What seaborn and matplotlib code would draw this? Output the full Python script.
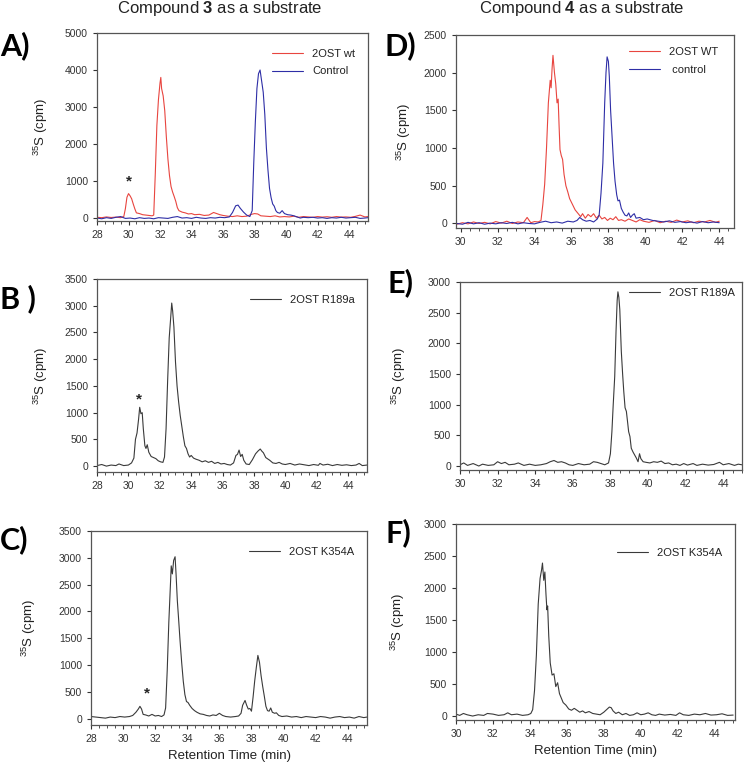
import matplotlib
matplotlib.use("Agg")
import matplotlib.pyplot as plt
import seaborn as sns
from matplotlib.ticker import AutoMinorLocator, MultipleLocator

# ---- data (retention time in min, counts in cpm) ----
# A) compound 3, 2OST wt
a_wt_t = [28.0, 28.3, 28.6, 28.9, 29.2, 29.5, 29.7, 29.8, 29.9, 30.0, 30.1, 30.2, 30.3, 30.4, 30.5,
          30.7, 30.9, 31.1, 31.3, 31.5, 31.6, 31.7, 31.8, 31.9, 32.0, 32.05, 32.1, 32.2, 32.3, 32.4,
          32.5, 32.6, 32.7, 32.8, 32.9, 33.0, 33.1, 33.2, 33.4, 33.6, 33.8, 34.0, 34.2, 34.5, 34.8,
          35.1, 35.4, 35.6, 35.8, 36.0, 36.3, 36.6, 36.9, 37.2, 37.5, 37.8, 38.0, 38.2, 38.4, 38.7,
          39.0, 39.3, 39.6, 39.9, 40.2, 40.5, 40.8, 41.1, 41.4, 41.7, 42.0, 42.3, 42.6, 42.9, 43.2,
          43.5, 43.8, 44.1, 44.4, 44.7, 45.0, 45.2]
a_wt_v = [20, 10, 30, 15, 25, 10, 40, 250, 560, 660, 600, 520, 380, 250, 140,
          120, 90, 80, 70, 60, 80, 1200, 2500, 3200, 3650, 3800, 3500, 3300, 2900, 2200,
          1600, 1150, 850, 700, 580, 450, 280, 200, 160, 140, 110, 120, 90, 100, 70,
          80, 150, 120, 90, 70, 50, 40, 60, 40, 50, 100, 120, 110, 60, 50,
          40, 60, 30, 40, 30, 50, 20, 40, 30, 20, 40, 25, 35, 20, 40,
          25, 30, 20, 45, 80, 30, 40]
# A) compound 3, control
a_ctl_t = [28.0, 28.3, 28.6, 28.9, 29.2, 29.5, 29.8, 30.1, 30.4, 30.7, 31.0, 31.3, 31.6, 31.9, 32.2,
           32.5, 32.8, 33.1, 33.4, 33.7, 34.0, 34.3, 34.6, 34.9, 35.2, 35.5, 35.8, 36.1, 36.4, 36.6,
           36.8, 36.95, 37.1, 37.3, 37.5, 37.7, 37.85, 37.95, 38.05, 38.15, 38.25, 38.35, 38.45, 38.55,
           38.65, 38.75, 38.85, 38.95, 39.05, 39.15, 39.25, 39.35, 39.45, 39.6, 39.75, 39.9, 40.1, 40.3,
           40.5, 40.7, 40.9, 41.1, 41.4, 41.7, 42.0, 42.3, 42.6, 42.9, 43.2, 43.5, 43.8, 44.1, 44.4,
           44.7, 45.0, 45.2]
a_ctl_v = [0, -20, 10, -10, 20, 40, -10, 0, -20, 10, -10, 0, -20, 10, 0,
           -10, 20, 40, 0, 10, -10, 20, 0, -10, 10, 0, 20, 10, 30, 150,
           330, 350, 260, 160, 80, 40, 200, 1500, 2600, 3500, 3900, 4000, 3700, 3400,
           2800, 1900, 1300, 800, 550, 380, 320, 200, 150, 130, 200, 120, 90, 80,
           60, 30, 0, 20, 10, 20, 0, 10, -10, 10, 0, 20, 0, 10, 20,
           -10, 0, 10]

# D) compound 4, 2OST WT
d_wt_t = [29.8, 30.1, 30.4, 30.7, 31.0, 31.3, 31.6, 31.9, 32.2, 32.5, 32.8, 33.1, 33.4, 33.6, 33.8,
          34.0, 34.2, 34.35, 34.45, 34.55, 34.65, 34.75, 34.85, 34.9, 34.95, 35.0, 35.08, 35.15, 35.22,
          35.28, 35.33, 35.38, 35.45, 35.52, 35.6, 35.7, 35.8, 35.9, 36.0, 36.1, 36.2, 36.3, 36.4, 36.5,
          36.6, 36.75, 36.9, 37.05, 37.2, 37.35, 37.5, 37.65, 37.8, 37.95, 38.1, 38.25, 38.4, 38.55,
          38.7, 38.9, 39.1, 39.3, 39.5, 39.7, 39.9, 40.2, 40.5, 40.8, 41.1, 41.4, 41.7, 42.0, 42.3,
          42.6, 42.9, 43.2, 43.5, 43.8, 44.0]
d_wt_v = [-10, 10, -5, 20, 0, 15, -5, 25, 5, 30, 0, 20, 10, 80, 10,
          25, 20, 40, 250, 520, 1000, 1600, 1900, 1800, 2050, 2230, 2000, 1850, 1600,
          1650, 1300, 980, 900, 850, 650, 500, 420, 330, 280, 230, 180, 150, 120, 90,
          130, 70, 120, 90, 130, 70, 110, 60, 80, 40, 70, 50, 90, 40,
          50, 30, 60, 40, 20, 50, 30, 15, 40, 10, 30, 15, 45, 20, 35,
          10, 30, 20, 40, 15, 30]
# D) compound 4, control
d_ctl_t = [29.8, 30.1, 30.4, 30.7, 31.0, 31.3, 31.6, 31.9, 32.2, 32.5, 32.8, 33.1, 33.4, 33.7, 34.0,
           34.3, 34.6, 34.9, 35.2, 35.5, 35.8, 36.1, 36.3, 36.45, 36.6, 36.8, 37.0, 37.2, 37.4, 37.5,
           37.6, 37.7, 37.8, 37.87, 37.93, 38.0, 38.05, 38.12, 38.2, 38.28, 38.36, 38.45, 38.52, 38.6,
           38.7, 38.8, 38.9, 39.0, 39.1, 39.2, 39.3, 39.4, 39.5, 39.7, 39.9, 40.1, 40.4, 40.7, 41.0,
           41.3, 41.6, 41.9, 42.2, 42.5, 42.8, 43.1, 43.4, 43.7, 44.0]
d_ctl_v = [0, -10, 15, -5, 10, -10, 5, -5, 10, 0, 15, -5, 10, 0, -5,
           15, 30, 10, 20, 5, 30, 20, 40, 80, 50, 30, 40, 20, 60, 110,
           400, 800, 1600, 2000, 2210, 2150, 1950, 1500, 1150, 800, 560, 380, 300, 310,
           200, 150, 110, 100, 140, 80, 110, 130, 70, 80, 50, 60, 40, 30, 20,
           35, 15, 25, 10, 20, 5, 25, 10, 20, 10]

# B) compound 3, 2OST R189a
b_t = [28.0, 28.3, 28.6, 28.9, 29.2, 29.4, 29.7, 30.0, 30.2, 30.35, 30.45, 30.55, 30.65, 30.72, 30.8,
       30.88, 30.95, 31.05, 31.12, 31.2, 31.3, 31.45, 31.6, 31.75, 31.9, 32.05, 32.2, 32.3, 32.4, 32.5,
       32.6, 32.7, 32.76, 32.82, 32.9, 33.0, 33.1, 33.2, 33.3, 33.4, 33.5, 33.6, 33.7, 33.8, 33.9,
       34.0, 34.15, 34.3, 34.5, 34.7, 34.9, 35.1, 35.3, 35.5, 35.7, 35.9, 36.1, 36.3, 36.5, 36.7,
       36.85, 36.95, 37.05, 37.15, 37.25, 37.35, 37.5, 37.7, 37.9, 38.1, 38.25, 38.4, 38.5, 38.6,
       38.75, 38.9, 39.0, 39.2, 39.4, 39.6, 39.8, 40.0, 40.3, 40.6, 40.9, 41.2, 41.5, 41.8, 42.1,
       42.2, 42.4, 42.7, 43.0, 43.3, 43.6, 43.9, 44.2, 44.5, 44.7, 44.9, 45.2]
b_v = [10, 30, 0, 20, 10, 40, 10, 20, 60, 150, 500, 620, 880, 1100, 980,
       1000, 700, 380, 330, 400, 260, 180, 160, 140, 100, 80, 70, 170, 700, 1600,
       2400, 2800, 3050, 2900, 2600, 1950, 1500, 1200, 950, 750, 550, 380, 330, 230, 170,
       200, 150, 130, 110, 80, 100, 70, 90, 50, 70, 40, 50, 30, 20, 60,
       200, 220, 300, 180, 220, 110, 40, 30, 120, 230, 280, 320, 280, 250,
       160, 130, 110, 60, 50, 70, 40, 30, 50, 20, 40, 25, 10, 30, 15,
       50, 20, 35, 10, 30, 15, 25, 10, 20, 50, 10, 20]

# E) compound 4, 2OST R189A
e_t = [30.0, 30.2, 30.4, 30.7, 31.0, 31.2, 31.5, 31.8, 32.0, 32.2, 32.4, 32.6, 32.9, 33.1, 33.4,
       33.7, 34.0, 34.3, 34.6, 34.8, 35.0, 35.2, 35.4, 35.6, 35.8, 36.0, 36.3, 36.6, 36.9, 37.1,
       37.3, 37.5, 37.7, 37.9, 38.0, 38.08, 38.15, 38.23, 38.3, 38.36, 38.4, 38.45, 38.5, 38.58,
       38.65, 38.71, 38.78, 38.85, 38.92, 38.97, 39.04, 39.11, 39.2, 39.29, 39.38, 39.47, 39.55,
       39.62, 39.74, 39.9, 40.1, 40.3, 40.5, 40.7, 40.9, 41.1, 41.3, 41.5, 41.7, 41.9, 42.1, 42.4,
       42.6, 42.9, 43.2, 43.5, 43.8, 44.0, 44.3, 44.6, 44.8, 45.0]
e_v = [20, 50, 10, 40, 0, 30, 10, 20, 70, 40, 60, 20, 30, 50, 10,
       30, 10, 20, 40, 70, 90, 60, 70, 50, 20, 10, 40, 20, 30, 70,
       60, 40, 20, 50, 200, 560, 1000, 1460, 2200, 2700, 2840, 2750, 2550, 1870,
       1500, 1220, 950, 890, 700, 560, 480, 290, 230, 180, 130, 70, 200,
       120, 70, 60, 50, 70, 60, 80, 40, 50, 20, 30, 10, 40, 15, 40,
       10, 30, 15, 25, 60, 20, 40, 10, 30, 20]

# C) compound 3, 2OST K354A
c_t = [28.0, 28.3, 28.6, 28.9, 29.2, 29.5, 29.8, 30.1, 30.4, 30.6, 30.8, 30.95, 31.05, 31.15, 31.25,
       31.4, 31.6, 31.8, 32.0, 32.2, 32.4, 32.55, 32.65, 32.75, 32.85, 32.95, 33.0, 33.07, 33.15,
       33.24, 33.3, 33.38, 33.45, 33.55, 33.65, 33.75, 33.85, 33.95, 34.05, 34.15, 34.3, 34.45,
       34.6, 34.8, 35.0, 35.2, 35.4, 35.6, 35.8, 36.0, 36.2, 36.4, 36.7, 37.0, 37.2, 37.35, 37.45,
       37.6, 37.7, 37.8, 37.9, 38.0, 38.1, 38.2, 38.3, 38.4, 38.5, 38.6, 38.7, 38.8, 38.9, 39.0,
       39.1, 39.2, 39.3, 39.45, 39.55, 39.7, 39.9, 40.2, 40.5, 40.8, 41.1, 41.4, 41.7, 42.0, 42.3,
       42.6, 42.9, 43.2, 43.5, 43.8, 44.1, 44.4, 44.7, 45.0, 45.2]
c_v = [40, 30, 20, 10, 30, 20, 40, 30, 40, 60, 120, 180, 230, 180, 80,
       70, 50, 80, 50, 60, 40, 70, 200, 900, 1800, 2500, 2850, 2700, 2950,
       3020, 2700, 2200, 1900, 1450, 1050, 700, 450, 320, 300, 250, 190, 150,
       120, 90, 80, 60, 50, 70, 60, 100, 60, 40, 30, 40, 50, 100, 250,
       340, 250, 180, 190, 140, 400, 700, 950, 1180, 1050, 800, 600, 420, 230, 150,
       140, 200, 120, 100, 110, 60, 40, 50, 30, 40, 20, 40, 30, 20, 40,
       30, 10, 30, 40, 20, 30, 10, 40, 20, 30]

# F) compound 4, 2OST K354A
f_t = [30.0, 30.2, 30.4, 30.6, 30.9, 31.2, 31.5, 31.7, 32.0, 32.3, 32.6, 32.8, 33.0, 33.3, 33.6,
       33.9, 34.05, 34.15, 34.25, 34.35, 34.45, 34.55, 34.63, 34.68, 34.75, 34.81, 34.87, 34.92,
       34.96, 35.02, 35.1, 35.2, 35.3, 35.4, 35.5, 35.6, 35.7, 35.8, 35.95, 36.1, 36.25, 36.4,
       36.55, 36.7, 36.85, 37.0, 37.2, 37.4, 37.6, 37.8, 38.0, 38.15, 38.3, 38.4, 38.5, 38.65,
       38.8, 39.0, 39.2, 39.4, 39.6, 39.8, 40.0, 40.2, 40.4, 40.6, 40.8, 41.0, 41.3, 41.6, 41.9,
       42.1, 42.3, 42.6, 42.9, 43.2, 43.5, 43.8, 44.1, 44.4, 44.7, 45.0]
f_v = [30, 10, 40, 20, 0, 20, 10, 40, 30, 10, 20, 50, 20, 30, 10,
       20, 40, 100, 400, 950, 1750, 2150, 2280, 2390, 2120, 2250, 1900, 1660,
       1720, 1250, 830, 640, 660, 460, 520, 350, 280, 210, 170, 110, 90, 120,
       90, 60, 80, 50, 70, 40, 30, 20, 60, 100, 140, 130, 80, 40,
       60, 20, 40, 10, 20, 50, 20, 30, 50, 20, 10, 30, 15, 25, 10,
       50, 20, 10, 30, 20, 40, 15, 20, 35, 10, 15]

RED = "#e8453f"
BLUE = "#2e2ea6"
DARK = "#3a3a3a"

sns.set_style("ticks")
plt.rcParams["font.family"] = ["Liberation Sans", "DejaVu Sans"]
plt.rcParams["mathtext.fontset"] = "custom"
plt.rcParams["mathtext.rm"] = "Liberation Sans"
plt.rcParams["mathtext.bf"] = "Liberation Sans:bold"

W, H = 745, 766
fig = plt.figure(figsize=(W / 100, H / 100), dpi=100)


def px_axes(left, top, right, bottom):
    return fig.add_axes([left / W, 1 - bottom / H, (right - left) / W, (bottom - top) / H])


def style(ax, xlim, ylim, ystep, xticks):
    ax.set_xlim(*xlim)
    ax.set_ylim(*ylim)
    ax.set_xticks(xticks)
    ax.yaxis.set_major_locator(MultipleLocator(ystep))
    ax.xaxis.set_minor_locator(AutoMinorLocator(4))
    ax.tick_params(axis="both", which="major", labelsize=7.5, length=3, width=0.8,
                   colors="#333333", direction="out")
    ax.tick_params(axis="x", which="minor", length=2, width=0.6, color="#333333")
    for s in ax.spines.values():
        s.set_color("#555555")
        s.set_linewidth(0.9)
    ax.set_xlabel("")
    ax.set_ylabel("")


def ylab(ax, xpix, left, width):
    ax.set_ylabel(r"$^{35}$S (cpm)", fontsize=9.5, color="#222222")
    ax.yaxis.set_label_coords((xpix - left) / width, 0.5)


def legend(ax, loc="upper right", anchor=None):
    leg = ax.legend(frameon=False, loc=loc, fontsize=8, handlelength=2.8,
                    labelspacing=0.7, bbox_to_anchor=anchor)
    for t in leg.get_texts():
        t.set_color("#222222")


lw = 0.8

# A
axA = px_axes(97, 33, 368, 221)
sns.lineplot(x=a_wt_t, y=a_wt_v, color=RED, lw=lw, label="2OST wt", ax=axA)
sns.lineplot(x=a_ctl_t, y=a_ctl_v, color=BLUE, lw=lw, label="Control", ax=axA)
style(axA, (28, 45.2), (-80, 5000), 1000, range(28, 45, 2))
ylab(axA, 50, 97, 271)
legend(axA, anchor=(0.99, 0.97))
axA.text(30.0, 1000, "*", ha="center", va="center", fontsize=11, fontweight="bold")

# D
axD = px_axes(456, 35, 734, 228)
sns.lineplot(x=d_wt_t, y=d_wt_v, color=RED, lw=lw, label="2OST WT", ax=axD)
sns.lineplot(x=d_ctl_t, y=d_ctl_v, color=BLUE, lw=lw, label=" control", ax=axD)
style(axD, (29.75, 44.8), (-60, 2500), 500, range(30, 45, 2))
ylab(axD, 413, 456, 278)
legend(axD, anchor=(0.98, 0.99))

# B
axB = px_axes(97, 279, 367, 472)
sns.lineplot(x=b_t, y=b_v, color=DARK, lw=lw, label="2OST R189a", ax=axB)
style(axB, (28, 45.2), (-110, 3500), 500, range(28, 45, 2))
ylab(axB, 50, 97, 270)
legend(axB, anchor=(0.99, 0.97))
axB.text(30.7, 1250, "*", ha="center", va="center", fontsize=11, fontweight="bold")

# E
axE = px_axes(460, 282, 742, 470)
sns.lineplot(x=e_t, y=e_v, color=DARK, lw=lw, label="2OST R189A", ax=axE)
style(axE, (30, 45), (-65, 3000), 500, range(30, 45, 2))
ylab(axE, 408, 460, 282)
legend(axE, anchor=(1.01, 1.02))

# C
axC = px_axes(91, 531, 367, 725)
sns.lineplot(x=c_t, y=c_v, color=DARK, lw=lw, label="2OST K354A", ax=axC)
style(axC, (28, 45.2), (-118, 3500), 500, range(28, 45, 2))
ylab(axC, 38, 91, 276)
legend(axC, anchor=(0.99, 0.97))
axC.text(31.5, 470, "*", ha="center", va="center", fontsize=11, fontweight="bold")
axC.set_xlabel("Retention Time (min)", fontsize=9.5, color="#222222", labelpad=4)

# F
axF = px_axes(456, 524, 735, 720)
sns.lineplot(x=f_t, y=f_v, color=DARK, lw=lw, label="2OST K354A", ax=axF)
style(axF, (30, 45.1), (-62, 3000), 500, range(30, 45, 2))
ylab(axF, 407, 456, 279)
legend(axF, anchor=(0.99, 0.93))
axF.set_xlabel("Retention Time (min)", fontsize=9.5, color="#222222", labelpad=4)

# column titles
fig.text(220 / W, 1 - 9 / H, r"Compound $\mathbf{3}$ as a substrate", ha="center", va="center",
         fontsize=12, color="#222222")
fig.text(582 / W, 1 - 9 / H, r"Compound $\mathbf{4}$ as a substrate", ha="center", va="center",
         fontsize=12, color="#222222")

# panel letters
letters = [("A)", 0, 46), ("D)", 384, 46), ("B )", 0, 299), ("E)", 387, 283), ("C)", 0, 540), ("F)", 386, 533)]
for txt, x, y in letters:
    fig.text(x / W, 1 - y / H, txt, ha="left", va="center", fontsize=22, fontweight="bold",
             family=["Lato", "DejaVu Sans"], color="black")

fig.savefig("out.png", dpi=100)
